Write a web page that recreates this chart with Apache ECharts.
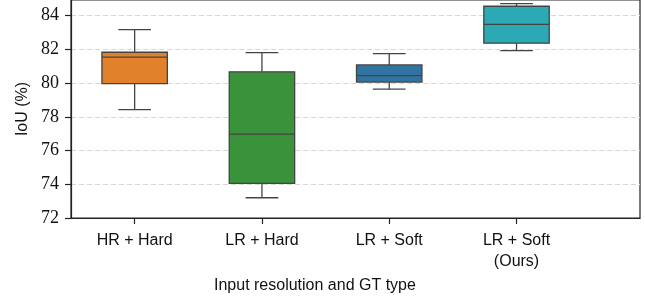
<!DOCTYPE html>
<html>
<head>
<meta charset="utf-8">
<script src="https://cdn.jsdelivr.net/npm/echarts@6/dist/echarts.min.js"></script>
<style>
  html, body { margin: 0; padding: 0; background: #fff; }
  #chart { width: 645px; height: 300px; }
</style>
</head>
<body>
<div id="chart"></div>
<script>
// values (IoU %)
var categories = ["HR + Hard", "LR + Hard", "LR + Soft", "LR + Soft\n(Ours)"];
var whiskerLow = [78.43, 73.2, 79.64, 81.93];
var q1 = [79.97, 74.05, 80.06, 82.37];
var median = [81.54, 76.98, 80.45, 83.49];
var q3 = [81.83, 80.67, 81.08, 84.56];
var whiskerHigh = [83.17, 81.81, 81.75, 84.71];
var boxColors = ["#e1812c", "#3a923a", "#3274a1", "#2ba9b5"];
var yTicks = [72, 74, 76, 78, 80, 82, 84];

var rows = categories.map(function (c, i) {
  return [i, whiskerLow[i], q1[i], median[i], q3[i], whiskerHigh[i]];
});

var edge = "#444444";

function renderBox(params, api) {
  var i = api.value(0);
  var lo = api.coord([i, api.value(1)]);
  var b1 = api.coord([i, api.value(2)]);
  var md = api.coord([i, api.value(3)]);
  var b3 = api.coord([i, api.value(4)]);
  var hi = api.coord([i, api.value(5)]);
  var half = api.size([1, 0])[0] * 0.257;
  var cap = half / 2;
  var x = lo[0];
  var line = { stroke: edge, lineWidth: 1.3 };
  return {
    type: "group",
    children: [
      { type: "line", shape: { x1: x, y1: b1[1], x2: x, y2: lo[1] }, style: line },
      { type: "line", shape: { x1: x, y1: b3[1], x2: x, y2: hi[1] }, style: line },
      { type: "line", shape: { x1: x - cap, y1: lo[1], x2: x + cap, y2: lo[1] }, style: line },
      { type: "line", shape: { x1: x - cap, y1: hi[1], x2: x + cap, y2: hi[1] }, style: line },
      {
        type: "rect",
        shape: { x: x - half, y: b3[1], width: half * 2, height: b1[1] - b3[1] },
        style: { fill: boxColors[i], stroke: edge, lineWidth: 1.3 }
      },
      { type: "line", shape: { x1: x - half, y1: md[1], x2: x + half, y2: md[1] }, style: line }
    ]
  };
}

var chart = echarts.init(document.getElementById("chart"), null, { renderer: "canvas" });
chart.setOption({
  animation: false,
  grid: {
    left: 71, right: 5, top: 0, bottom: 82,
    show: true, borderColor: "#222", borderWidth: 1.2, backgroundColor: "transparent"
  },
  xAxis: {
    type: "value",
    min: -0.5,
    max: 3.97,
    axisLine: { show: true, onZero: false, lineStyle: { color: "#222", width: 1.2 } },
    splitLine: { show: false },
    axisTick: { show: true, customValues: [0, 1, 2, 3], length: 6, lineStyle: { color: "#222", width: 1.2 } },
    axisLabel: {
      customValues: [0, 1, 2, 3],
      margin: 12,
      fontFamily: "Liberation Sans",
      fontSize: 16,
      lineHeight: 21,
      color: "#111",
      formatter: function (v) { return categories[Math.round(v)]; }
    }
  },
  yAxis: {
    type: "value",
    min: 72,
    max: 84.93,
    interval: 2,
    name: "IoU (%)",
    nameLocation: "middle",
    nameGap: 38,
    nameTextStyle: { fontFamily: "Liberation Sans", fontSize: 16, color: "#111" },
    axisLine: { show: true, onZero: false, lineStyle: { color: "#222", width: 1.2 } },
    axisTick: { show: true, customValues: yTicks, length: 6, lineStyle: { color: "#222", width: 1.2 } },
    axisLabel: {
      customValues: yTicks,
      margin: 12,
      fontFamily: "Liberation Serif",
      fontSize: 18,
      color: "#111"
    },
    splitLine: { show: true, lineStyle: { color: "#d6d6d6", type: [5, 3], width: 1.2 } }
  },
  graphic: [{
    type: "text",
    left: 214,
    top: 278,
    style: { text: "Input resolution and GT type", fontFamily: "Liberation Sans", fontSize: 16, fill: "#111" }
  }],
  series: [{
    type: "custom",
    renderItem: renderBox,
    encode: { x: 0, y: [1, 2, 3, 4, 5] },
    data: rows,
    z: 3
  }]
});
</script>
</body>
</html>
